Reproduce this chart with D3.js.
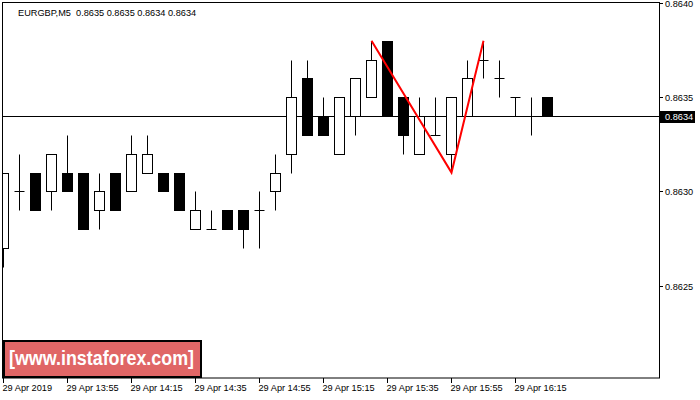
<!DOCTYPE html>
<html>
<head>
<meta charset="utf-8">
<script src="https://cdn.jsdelivr.net/npm/d3@7"></script>
<style>
  html, body { margin: 0; padding: 0; background: #fff; }
  svg { display: block; }
  text { font-family: "Liberation Sans", Arial, sans-serif; }
</style>
</head>
<body>
<svg id="chart" width="700" height="400"></svg>
<script>
// ---- data ----
const times = ["13:35","13:40","13:45","13:50","13:55","14:00","14:05","14:10","14:15","14:20",
               "14:25","14:30","14:35","14:40","14:45","14:50","14:55","15:00","15:05","15:10",
               "15:15","15:20","15:25","15:30","15:35","15:40","15:45","15:50","15:55","16:00",
               "16:05","16:10","16:15","16:20","16:25"];
const opens  = [0.8627,0.8630,0.8631,0.8630,0.8631,0.8631,0.8629,0.8631,0.8630,0.8631,
                0.8631,0.8631,0.8628,0.8628,0.8629,0.8629,0.8629,0.8630,0.8632,0.8636,
                0.8634,0.8632,0.8634,0.8635,0.8638,0.8635,0.8632,0.8633,0.8632,0.8634,
                0.8637,0.8636,0.8635,0.8634,0.8635];
const highs  = [0.8631,0.8632,0.8631,0.8632,0.8633,0.8631,0.8631,0.8631,0.8633,0.8633,
                0.8631,0.8631,0.8630,0.8629,0.8629,0.8629,0.8630,0.8632,0.8637,0.8637,
                0.8635,0.8635,0.8636,0.8638,0.8638,0.8635,0.8635,0.8635,0.8635,0.8637,
                0.8638,0.8637,0.8635,0.8635,0.8635];
const lows   = [0.8626,0.8629,0.8629,0.8629,0.8630,0.8628,0.8628,0.8629,0.8630,0.8631,
                0.8630,0.8629,0.8628,0.8628,0.8628,0.8627,0.8627,0.8629,0.8631,0.8633,
                0.8633,0.8632,0.8633,0.8635,0.8634,0.8632,0.8632,0.8633,0.8631,0.8634,
                0.8636,0.8635,0.8634,0.8633,0.8634];
const closes = [0.8631,0.8630,0.8629,0.8632,0.8630,0.8628,0.8630,0.8629,0.8632,0.8632,
                0.8630,0.8629,0.8629,0.8628,0.8628,0.8628,0.8629,0.8631,0.8635,0.8633,
                0.8633,0.8635,0.8636,0.8637,0.8634,0.8633,0.8634,0.8633,0.8635,0.8636,
                0.8637,0.8636,0.8635,0.8634,0.8634];
const xTickIdx    = [0,4,8,12,16,20,24,28,32];
const xTickLabels = ["29 Apr 2019","29 Apr 13:55","29 Apr 14:15","29 Apr 14:35","29 Apr 14:55",
                     "29 Apr 15:15","29 Apr 15:35","29 Apr 15:55","29 Apr 16:15"];
const yTicks = [0.8640,0.8635,0.8630,0.8625];
const patternIdx   = [23,28,30];
const patternPrice = [0.8638,0.8631,0.8638];
const lastPrice = 0.8634;
const title = "EURGBP,M5  0.8635 0.8635 0.8634 0.8634";
const watermark = "[www.instaforex.com]";

// ---- layout ----
const L = 3, T = 3, R = 659, B = 378;
const svg = d3.select("#chart");
const x = d3.scaleLinear().domain([0, 34]).range([3.5, 3.5 + 16*34]);
const y = d3.scaleLinear().domain([0.86201, 0.86400]).range([B, T]);
const py = v => Math.round(y(v)) + 0.5;

svg.append("defs").append("clipPath").attr("id","plot")
  .append("rect").attr("x", L).attr("y", T).attr("width", R-L).attr("height", B-T);

const g = svg.append("g").attr("clip-path","url(#plot)");

// last price line
g.append("line").attr("x1", L).attr("x2", R)
  .attr("y1", py(lastPrice)).attr("y2", py(lastPrice))
  .attr("stroke","#000").attr("stroke-width",1);

const idx = d3.range(times.length);
const cg = g.selectAll("g.c").data(idx).join("g").attr("class","c");
// wicks
cg.append("line")
  .attr("x1", i => x(i)).attr("x2", i => x(i))
  .attr("y1", i => py(highs[i])).attr("y2", i => py(lows[i]))
  .attr("stroke","#000").attr("stroke-width",1);
// bodies
cg.filter(i => opens[i] !== closes[i]).append("rect")
  .attr("x", i => x(i) - 5).attr("width", 10)
  .attr("y", i => py(Math.max(opens[i], closes[i])))
  .attr("height", i => py(Math.min(opens[i], closes[i])) - py(Math.max(opens[i], closes[i])))
  .attr("fill", i => closes[i] > opens[i] ? "#fff" : "#000")
  .attr("stroke","#000").attr("stroke-width",1);
// doji
cg.filter(i => opens[i] === closes[i]).append("line")
  .attr("x1", i => x(i) - 5).attr("x2", i => x(i) + 5)
  .attr("y1", i => py(opens[i])).attr("y2", i => py(opens[i]))
  .attr("stroke","#000").attr("stroke-width",1);

// pattern line
g.append("path")
  .datum(patternIdx.map((d,k) => [x(d), y(patternPrice[k])]))
  .attr("d", d3.line())
  .attr("fill","none").attr("stroke","#ff0000").attr("stroke-width",2);

// frame
svg.append("rect").attr("x", L-0.5).attr("y", T-0.5).attr("width", R-L+1).attr("height", B-T+0.5)
  .attr("fill","none").attr("stroke","#000").attr("stroke-width",1);

// right axis
const ya = svg.append("g");
yTicks.forEach(v => {
  const yy = Math.round(y(v)) + 0.5;
  ya.append("line").attr("x1", R).attr("x2", R+4).attr("y1", yy).attr("y2", yy).attr("stroke","#000");
  ya.append("text").attr("x", 665).attr("y", yy + 3.3).attr("font-size", 9.2).attr("fill","#000")
    .text(d3.format(".4f")(v));
});
// last price label
const ly = Math.round(y(lastPrice));
svg.append("rect").attr("x", 660).attr("y", ly - 5).attr("width", 35).attr("height", 12).attr("fill","#000");
svg.append("text").attr("x", 665).attr("y", ly + 4.3).attr("font-size", 9.2).attr("fill","#fff")
  .text(d3.format(".4f")(lastPrice));

// bottom axis
const xa = svg.append("g");
xTickIdx.forEach((d,k) => {
  const xx = Math.floor(x(d)) + 0.5;
  xa.append("line").attr("x1", xx).attr("x2", xx).attr("y1", B).attr("y2", B+5).attr("stroke","#000");
  xa.append("text").attr("x", xx - 1).attr("y", 390.5).attr("font-size", 9.2).attr("fill","#000")
    .text(xTickLabels[k]);
});

// title
svg.append("text").attr("x", 18).attr("y", 15.5).attr("font-size", 9.2).attr("fill","#000")
  .attr("xml:space","preserve").style("white-space","pre").text(title);

// watermark
svg.append("rect").attr("x", 4).attr("y", 341).attr("width", 197).attr("height", 36)
  .attr("fill","#e06666").attr("stroke","#000").attr("stroke-width",2);
svg.append("text").attr("x", 9).attr("y", 365).attr("font-size", 20).attr("font-weight","bold")
  .attr("fill","#fff").attr("textLength", 185).attr("lengthAdjust","spacingAndGlyphs")
  .text(watermark);
</script>
</body>
</html>
